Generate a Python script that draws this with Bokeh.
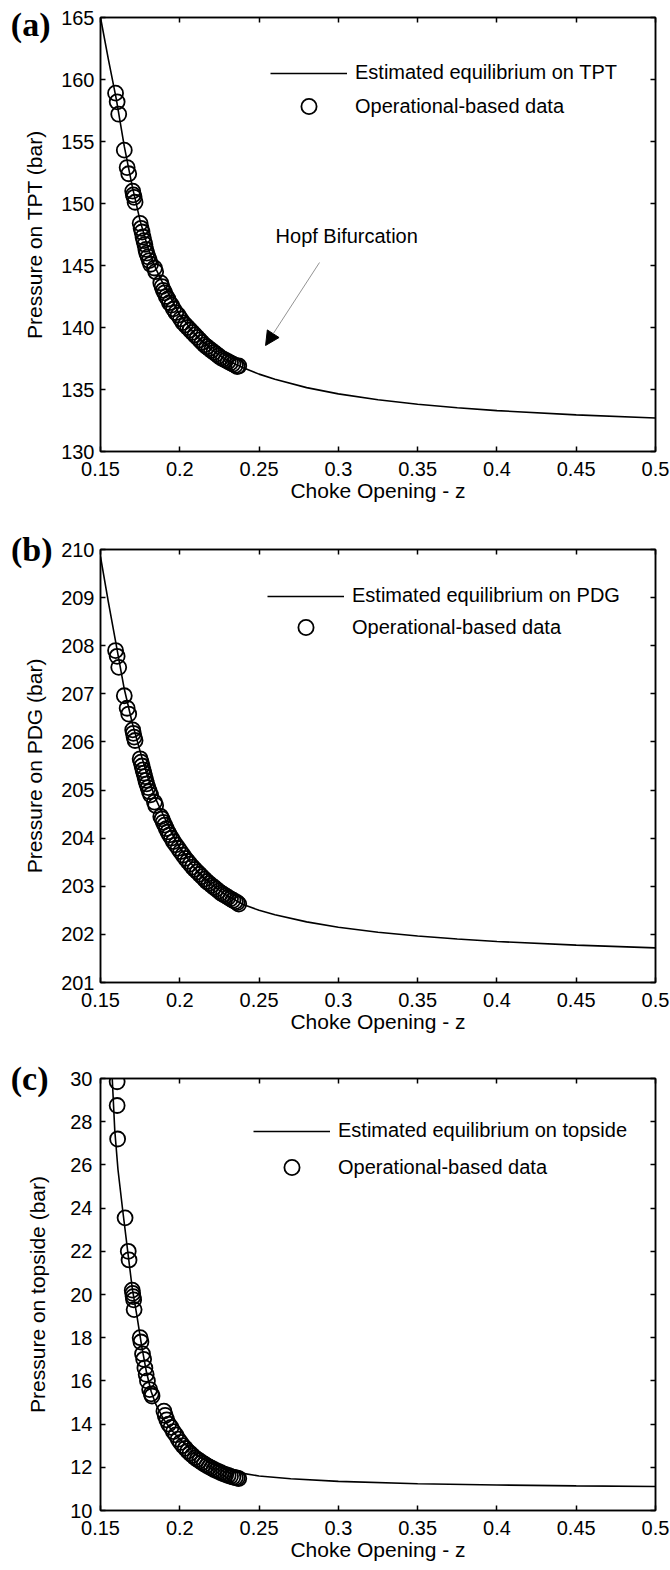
from bokeh.plotting import figure
from bokeh.layouts import column
from bokeh.models import (LinearAxis, FixedTicker, Legend, LegendItem, Label,
                          Arrow, NormalHead, Range1d)
from bokeh.embed import file_html
from bokeh.resources import INLINE

# ---------------- data ----------------
x_ticks = [0.15, 0.2, 0.25, 0.3, 0.35, 0.4, 0.45, 0.5]
x_tick_labels = ["0.15", "0.2", "0.25", "0.3", "0.35", "0.4", "0.45", "0.5"]

# operational data: choke openings (panels a and b)
z_data = [0.1595, 0.1605, 0.1615, 0.1650, 0.1668, 0.1678, 0.1703, 0.1707, 0.1712, 0.1718,
          0.1750, 0.1756, 0.1762, 0.1768, 0.1774, 0.1780, 0.1786, 0.1792, 0.1800, 0.1808,
          0.1816, 0.1840, 0.1848, 0.1880, 0.1888, 0.1896, 0.1905, 0.1915, 0.1925, 0.1935,
          0.1948, 0.1960, 0.1975, 0.1990, 0.2005, 0.2020, 0.2035, 0.2050, 0.2065, 0.2080,
          0.2095, 0.2110, 0.2125, 0.2140, 0.2155, 0.2170, 0.2185, 0.2200, 0.2215, 0.2230,
          0.2245, 0.2260, 0.2275, 0.2290, 0.2305, 0.2320, 0.2335, 0.2350, 0.2362, 0.2372]

# (a) TPT
tpt_data = [158.9, 158.2, 157.2, 154.3, 152.9, 152.4, 151.0, 150.7, 150.5, 150.1,
            148.4, 148.0, 147.7, 147.3, 147.0, 146.7, 146.3, 146.0, 145.7, 145.4,
            145.1, 144.8, 144.5, 143.6, 143.3, 143.0, 142.8, 142.5, 142.3, 142.0,
            141.8, 141.5, 141.2, 141.0, 140.7, 140.4, 140.2, 140.0, 139.8, 139.6,
            139.4, 139.2, 139.0, 138.8, 138.6, 138.45, 138.3, 138.15, 138.0, 137.85,
            137.7, 137.55, 137.45, 137.35, 137.25, 137.15, 137.05, 136.95, 136.85, 136.9]
z_curve_a = [0.150, 0.155, 0.160, 0.165, 0.170, 0.175, 0.180, 0.185, 0.190, 0.195,
             0.200, 0.210, 0.220, 0.230, 0.240, 0.250, 0.260, 0.280, 0.300, 0.325,
             0.350, 0.375, 0.400, 0.450, 0.500]
tpt_curve = [165.0, 161.6, 158.4, 154.6, 151.4, 148.6, 146.4, 144.7, 143.4, 142.2,
             141.0, 139.4, 138.2, 137.35, 136.75, 136.24, 135.82, 135.15, 134.65, 134.17,
             133.81, 133.53, 133.30, 132.95, 132.70]
tpt_ticks = [130, 135, 140, 145, 150, 155, 160, 165]

# (b) PDG
pdg_data = [207.9, 207.78, 207.55, 206.96, 206.7, 206.58, 206.25, 206.18, 206.1, 206.03,
            205.65, 205.58, 205.5, 205.42, 205.35, 205.28, 205.2, 205.13, 205.05, 204.97,
            204.9, 204.75, 204.68, 204.45, 204.4, 204.33, 204.27, 204.2, 204.13, 204.07,
            204.0, 203.93, 203.86, 203.79, 203.72, 203.65, 203.58, 203.52, 203.46, 203.4,
            203.35, 203.3, 203.25, 203.2, 203.15, 203.1, 203.06, 203.02, 202.98, 202.94,
            202.9, 202.86, 202.83, 202.8, 202.77, 202.74, 202.71, 202.68, 202.66, 202.63]
z_curve_b = [0.150, 0.155, 0.160, 0.165, 0.170, 0.175, 0.180, 0.185, 0.190, 0.195,
             0.200, 0.210, 0.220, 0.230, 0.240, 0.250, 0.260, 0.280, 0.300, 0.325,
             0.350, 0.375, 0.400, 0.450, 0.500]
pdg_curve = [209.85, 208.9, 208.0, 207.1, 206.4, 205.8, 205.25, 204.8, 204.45, 204.1,
             203.8, 203.35, 203.03, 202.8, 202.62, 202.50, 202.41, 202.26, 202.15, 202.045,
             201.966, 201.903, 201.852, 201.776, 201.72]
pdg_ticks = [201, 202, 203, 204, 205, 206, 207, 208, 209, 210]

# (c) topside
z_data_c = [0.1605, 0.1605, 0.1608, 0.1655, 0.1675, 0.1680, 0.1700, 0.1703, 0.1706, 0.1709,
            0.1712, 0.1750, 0.1755, 0.1765, 0.1772, 0.1780, 0.1788, 0.1796, 0.1810, 0.1820,
            0.1825, 0.1900, 0.1908, 0.1918, 0.1930, 0.1945, 0.1960, 0.1975, 0.1990, 0.2005,
            0.2020, 0.2035, 0.2050, 0.2065, 0.2080, 0.2095, 0.2110, 0.2125, 0.2140, 0.2155,
            0.2170, 0.2185, 0.2200, 0.2215, 0.2230, 0.2245, 0.2260, 0.2275, 0.2290, 0.2305,
            0.2320, 0.2335, 0.2350, 0.2362, 0.2372]
top_data = [29.85, 28.75, 27.2, 23.55, 22.0, 21.6, 20.2, 20.05, 19.9, 19.75,
            19.3, 18.0, 17.8, 17.25, 17.0, 16.6, 16.3, 16.0, 15.6, 15.4,
            15.3, 14.6, 14.4, 14.2, 14.0, 13.85, 13.65, 13.5, 13.3, 13.15,
            13.0, 12.88, 12.75, 12.65, 12.55, 12.45, 12.37, 12.3, 12.22, 12.15,
            12.08, 12.02, 11.96, 11.9, 11.85, 11.8, 11.75, 11.7, 11.66, 11.62,
            11.58, 11.55, 11.52, 11.5, 11.48]
z_curve_c = [0.1560, 0.1574, 0.1590, 0.1610, 0.1640, 0.1670, 0.1700, 0.1730, 0.1760, 0.1790,
             0.1820, 0.1850, 0.1900, 0.1950, 0.2000, 0.2100, 0.2200, 0.2300, 0.2400, 0.2500,
             0.2700, 0.3000, 0.3500, 0.4000, 0.4500, 0.5000]
top_curve = [31.0, 30.0, 27.6, 25.8, 23.9, 22.1, 20.3, 19.0, 17.6, 16.4,
             15.5, 14.9, 14.2, 13.7, 13.3, 12.6, 12.15, 11.88, 11.72, 11.6,
             11.47, 11.35, 11.24, 11.18, 11.14, 11.11]
top_ticks = [10, 12, 14, 16, 18, 20, 22, 24, 26, 28, 30]

FONT = "Liberation Sans"
TICK_FS = "20px"
LAB_FS = "21px"
LEG_FS = "20px"


def make_panel(letter, z_line, p_line, z_pts, p_pts, yticks, yrange, ylabel, line_label,
               height, b_top, b_bottom, b_left, leg_x, leg_line_y, leg_dot_y,
               ytick_standoff, ylab_standoff, letter_standoff, letter_drop):
    p = figure(width=670, height=height, output_backend="svg", toolbar_location=None,
               x_range=Range1d(0.15, 0.5), y_range=Range1d(*yrange),
               min_border_left=b_left, min_border_right=15,
               min_border_top=b_top, min_border_bottom=b_bottom,
               x_axis_location=None, y_axis_location=None)
    p.xgrid.visible = False
    p.ygrid.visible = False
    p.outline_line_color = "black"
    p.outline_line_width = 1.5
    p.background_fill_color = "white"
    p.border_fill_color = "white"

    def style(ax, show):
        ax.axis_line_color = "black"
        ax.axis_line_width = 1.5
        ax.major_tick_in = 5
        ax.major_tick_out = 0
        ax.major_tick_line_width = 1.5
        ax.minor_tick_line_color = None
        if show:
            ax.major_label_text_font = FONT
            ax.major_label_text_font_size = TICK_FS
            ax.major_label_text_color = "black"
            ax.axis_label_text_font = FONT
            ax.axis_label_text_font_size = LAB_FS
            ax.axis_label_text_font_style = "normal"
            ax.axis_label_text_color = "black"
        else:
            ax.major_label_text_font_size = "1px"
            ax.major_label_text_color = None
            ax.major_label_standoff = 0
            ax.axis_label = None

    xb = LinearAxis(ticker=FixedTicker(ticks=x_ticks), axis_label="Choke Opening - z")
    xb.major_label_overrides = {t: l for t, l in zip(x_ticks, x_tick_labels)}
    style(xb, True)
    xb.major_label_standoff = 10
    xb.axis_label_standoff = 0
    p.add_layout(xb, "below")

    xt = LinearAxis(ticker=FixedTicker(ticks=x_ticks))
    style(xt, False)
    p.add_layout(xt, "above")

    yl = LinearAxis(ticker=FixedTicker(ticks=yticks), axis_label=ylabel)
    style(yl, True)
    yl.major_label_standoff = ytick_standoff
    yl.axis_label_standoff = ylab_standoff
    p.add_layout(yl, "left")

    # panel letter, drawn as the single label of an extra (invisible) left axis
    pos = yrange[1] - letter_drop
    la = LinearAxis(ticker=FixedTicker(ticks=[pos]))
    la.major_label_overrides = {pos: letter}
    la.axis_line_color = None
    la.major_tick_line_color = None
    la.minor_tick_line_color = None
    la.major_tick_in = 0
    la.major_tick_out = 0
    la.major_label_text_font = "Liberation Serif"
    la.major_label_text_font_style = "bold"
    la.major_label_text_font_size = "34px"
    la.major_label_text_color = "black"
    la.major_label_standoff = -letter_standoff
    p.add_layout(la, "left")

    yr = LinearAxis(ticker=FixedTicker(ticks=yticks))
    style(yr, False)
    p.add_layout(yr, "right")

    ln = p.line(z_line, p_line, line_color="black", line_width=1.6)
    sc = p.scatter(z_pts, p_pts, marker="circle", size=15, fill_color=None,
                   line_color="black", line_width=1.8)

    frame_h = height - b_top - b_bottom
    leg1 = Legend(items=[LegendItem(label=line_label, renderers=[ln])],
                  location=(leg_x, frame_h - (leg_line_y + 11)),
                  glyph_width=77, glyph_height=22, spacing=0,
                  label_standoff=8, padding=0, margin=0,
                  border_line_color=None, background_fill_alpha=0,
                  label_text_font=FONT, label_text_font_size=LEG_FS,
                  label_text_color="black", label_height=22)
    leg2 = Legend(items=[LegendItem(label="Operational-based data", renderers=[sc])],
                  location=(leg_x, frame_h - (leg_dot_y + 19)),
                  glyph_width=77, glyph_height=38, spacing=0,
                  label_standoff=8, padding=0, margin=0,
                  border_line_color=None, background_fill_alpha=0,
                  label_text_font=FONT, label_text_font_size=LEG_FS,
                  label_text_color="black", label_height=22)
    p.add_layout(leg1, "center")
    p.add_layout(leg2, "center")
    return p


# panel (a): canvas 0..528, frame 17..451
pa = make_panel("(a)", z_curve_a, tpt_curve, z_data, tpt_data, tpt_ticks, (130, 165),
                "Pressure on TPT (bar)", "Estimated equilibrium on TPT",
                528, 17, 77, 100, 170, 56, 89, 6, 12, 30, 0.55)

# Hopf bifurcation annotation
pa.add_layout(Label(x=0.2604, y=147.4, text="Hopf Bifurcation", text_font=FONT,
                    text_font_size=LEG_FS, text_baseline="middle", text_align="left",
                    text_color="black"))
pa.add_layout(Arrow(x_start=0.2881, y_start=145.24, x_end=0.2541, y_end=138.55,
                    line_color="#777777", line_width=0.8,
                    end=NormalHead(size=14, fill_color="black", line_color="black")))

# panel (b): canvas 528..1058, frame 549..982
pb = make_panel("(b)", z_curve_b, pdg_curve, z_data, pdg_data, pdg_ticks, (201, 210),
                "Pressure on PDG (bar)", "Estimated equilibrium on PDG",
                530, 21, 76, 100, 167, 47, 78, 6, 12, 32, 0)

# panel (c): canvas 1058..1570, frame 1078..1510
pc = make_panel("(c)", z_curve_c, top_curve, z_data_c, top_data, top_ticks, (10, 30),
                "Pressure on topside (bar)", "Estimated equilibrium on topside",
                512, 20, 60, 89, 153, 53, 89, 8, 18, 25, 0)

layout = column(pa, pb, pc, spacing=0)
open("out.html", "w").write(file_html(layout, INLINE))
